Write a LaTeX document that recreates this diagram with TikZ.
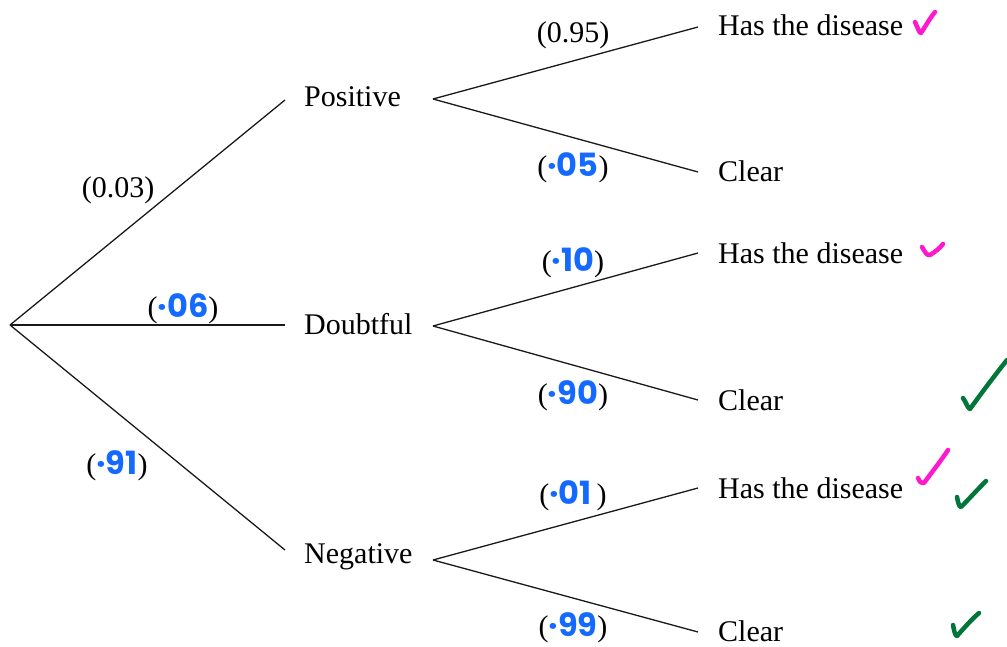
\documentclass[tikz,border=0pt]{standalone}
\usepackage{fontspec}
\setmainfont{Liberation Serif}
\newfontfamily\handfont{Poppins Bold}
\definecolor{inkblue}{RGB}{20,105,255}
\definecolor{inkpink}{RGB}{255,25,205}
\definecolor{inkgreen}{RGB}{0,118,58}
\newcommand{\hw}[1]{{\handfont\fontsize{32}{36}\selectfont\color{inkblue}#1}}
\begin{document}
\begin{tikzpicture}[x=1pt,y=-1pt,
  every node/.style={font=\fontsize{30}{34}\selectfont, inner sep=0pt},
  branch/.style={line width=1.3pt, black!90},
  lbl/.style={anchor=base},
  leaf/.style={anchor=base west},
  mid/.style={anchor=base west},
  tick/.style={line width=4.5pt, line cap=round, line join=round}]
\useasboundingbox (0,0) rectangle (1007,647);
% root and junctions
\coordinate (r) at (10,325);
\coordinate (pJ) at (433,99);
\coordinate (dJ) at (433,326);
\coordinate (nJ) at (433,560);
% middle nodes
\node[mid] (pos) at (304,107) {Positive};
\node[mid] (dou) at (304,334) {Doubtful};
\node[mid] (neg) at (304,563) {Negative};
\coordinate (pE) at (285,100);
\coordinate (dE) at (285,325);
\coordinate (nE) at (285,550);
% leaves
\node[leaf] (l1) at (718,36) {Has the disease};
\node[leaf] (l2) at (718,182) {Clear};
\node[leaf] (l3) at (718,264) {Has the disease};
\node[leaf] (l4) at (718,410) {Clear};
\node[leaf] (l5) at (718,498) {Has the disease};
\node[leaf] (l6) at (718,641) {Clear};
\coordinate (e1) at (698,27);
\coordinate (e2) at (698,172);
\coordinate (e3) at (698,253);
\coordinate (e4) at (698,400);
\coordinate (e5) at (698,488);
\coordinate (e6) at (698,632);
% branches
\draw[branch] (r) -- (pE);
\draw[branch] (r) -- (dE);
\draw[branch] (r) -- (nE);
\draw[branch] (pJ) -- (e1);
\draw[branch] (pJ) -- (e2);
\draw[branch] (dJ) -- (e3);
\draw[branch] (dJ) -- (e4);
\draw[branch] (nJ) -- (e5);
\draw[branch] (nJ) -- (e6);
% labels
\node[lbl] (a1) at (118,198) {(0.03)};
\node[lbl] (a2) at (183,317) {(\hw{·06})};
\node[lbl] (a3) at (117,474) {(\hw{·91})};
\node[lbl] (b1) at (573,43) {(0.95)};
\node[lbl] (b2) at (573,177) {(\hw{·05})};
\node[lbl] (b3) at (573,272) {(\hw{·10})};
\node[lbl] (b4) at (573,404) {(\hw{·90})};
\node[lbl] (b5) at (573,504) {(\hw{·01}\,)};
\node[lbl] (b6) at (573,636) {(\hw{·99})};
% ticks
\draw[tick, inkpink] (915,22) .. controls (918,28) and (919,33) .. (921,33) .. controls (925,27) and (930,18) .. (935,12);
\draw[tick, inkpink] (922,247) .. controls (925,252) and (927,256) .. (930,255) .. controls (935,252) and (940,248) .. (943,244);
\draw[tick, inkgreen] (963,398) .. controls (966,402) and (968,409) .. (970,409) .. controls (980,395) and (995,375) .. (1007,360);
\draw[tick, inkpink] (918,478) .. controls (920,482) and (921,484) .. (924,483) .. controls (932,472) and (940,462) .. (948,450);
\draw[tick, inkgreen] (957,497) .. controls (958,502) and (959,507) .. (961,507) .. controls (968,500) and (978,489) .. (986,481);
\draw[tick, inkgreen] (953,625) .. controls (954,630) and (955,636) .. (957,636) .. controls (964,628) and (972,619) .. (979,613);
\end{tikzpicture}
\end{document}
